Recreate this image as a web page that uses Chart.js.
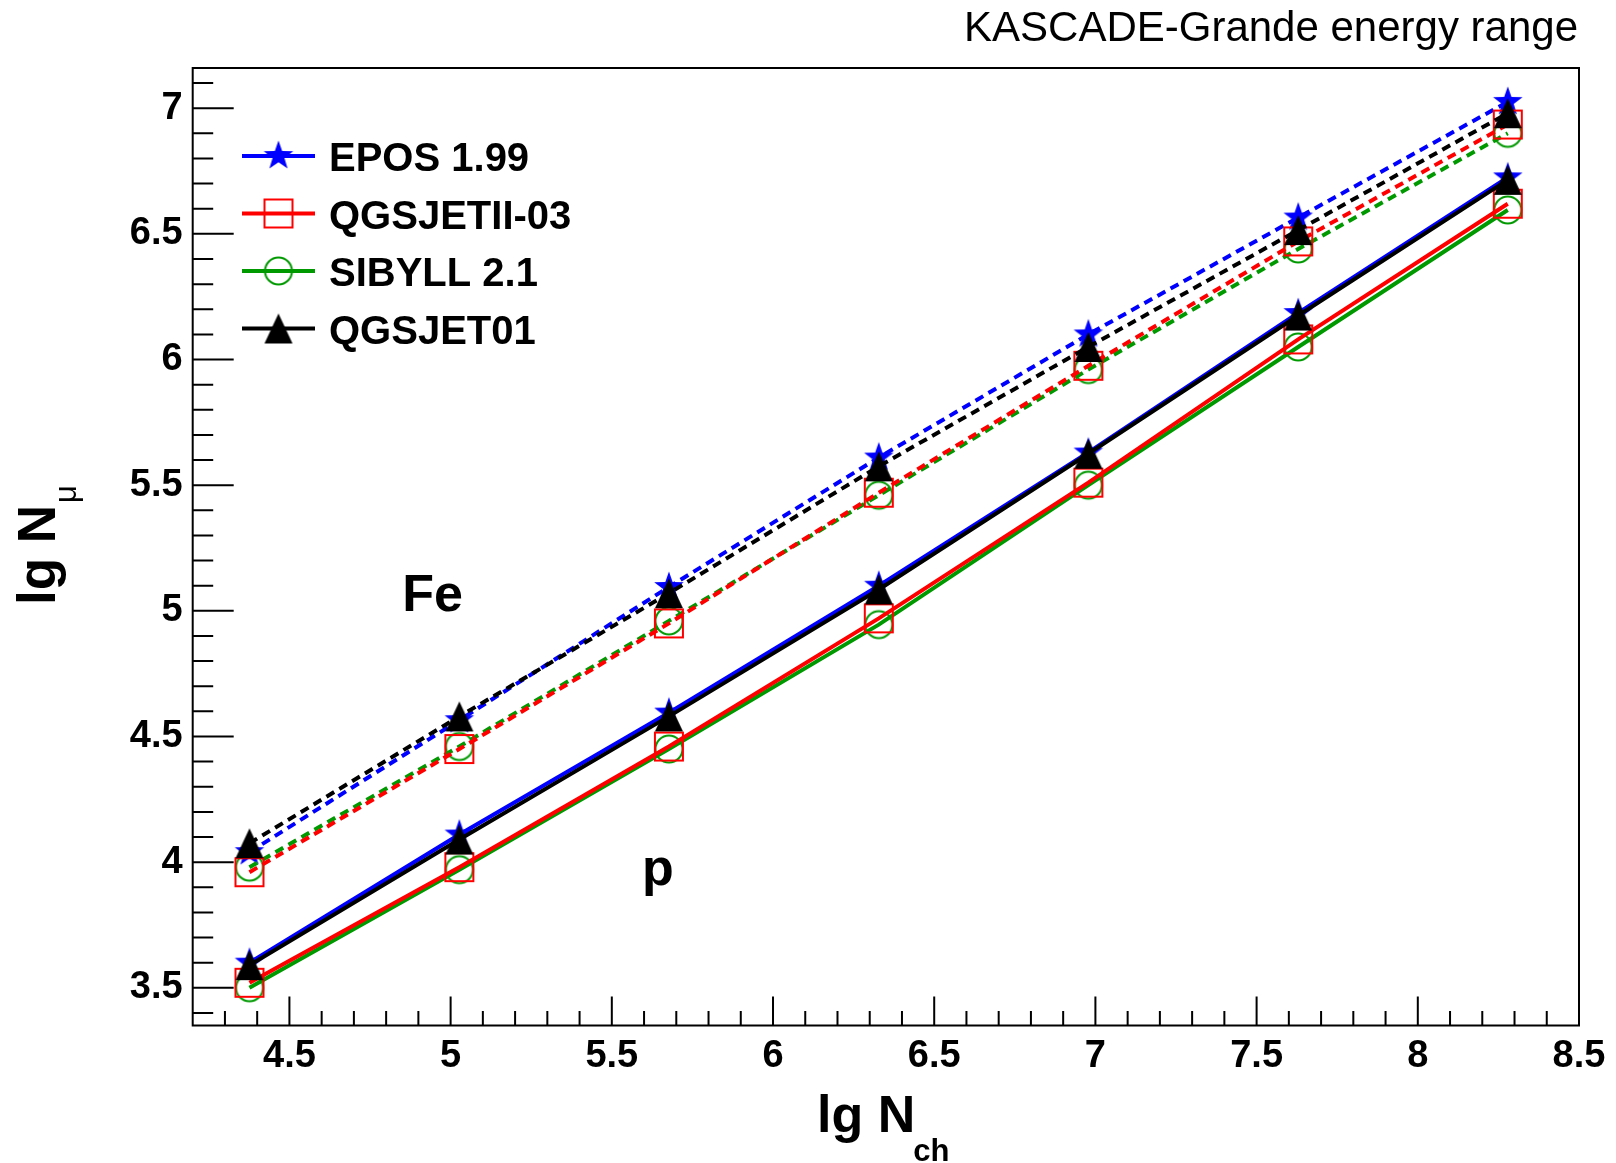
<!DOCTYPE html>
<html><head><meta charset="utf-8">
<script src="https://cdn.jsdelivr.net/npm/chart.js@4.4.1/dist/chart.umd.min.js"></script>
<style>html,body{margin:0;padding:0;background:#fff;}canvas{display:block;}</style>
</head><body>
<canvas id="c" width="1616" height="1163"></canvas>
<script>
// ---------- data ----------
const xValues = [4.376, 5.027, 5.677, 6.328, 6.978, 7.629, 8.279];

const eposFe   = [4.04, 4.565, 5.095, 5.61, 6.10, 6.565, 7.025];
const eposP    = [3.60, 4.11, 4.595, 5.10, 5.63, 6.185, 6.725];
const qgs2Fe   = [3.96, 4.45, 4.95, 5.47, 5.975, 6.47, 6.935];
const qgs2P    = [3.52, 3.98, 4.46, 4.97, 5.51, 6.08, 6.62];
const sibyllFe = [3.98, 4.46, 4.96, 5.46, 5.96, 6.44, 6.90];
const sibyllP  = [3.50, 3.97, 4.45, 4.945, 5.50, 6.05, 6.595];
const qgs01Fe  = [4.075, 4.58, 5.07, 5.575, 6.05, 6.515, 6.98];
const qgs01P   = [3.59, 4.09, 4.58, 5.085, 5.625, 6.175, 6.715];

const modelNames = ['EPOS 1.99', 'QGSJETII-03', 'SIBYLL 2.1', 'QGSJET01'];

const xMajorTicks = [4.5, 5, 5.5, 6, 6.5, 7, 7.5, 8, 8.5];
const xTickLabels = ['4.5', '5', '5.5', '6', '6.5', '7', '7.5', '8', '8.5'];
const yMajorTicks = [3.5, 4, 4.5, 5, 5.5, 6, 6.5, 7];
const yTickLabels = ['3.5', '4', '4.5', '5', '5.5', '6', '6.5', '7'];

const titleText = 'KASCADE-Grande energy range';
const xTitleMain = 'lg N', xTitleSub = 'ch';
const yTitleMain = 'lg N', yTitleSub = 'μ';
const annotations = [ {text: 'Fe', x: 4.85, y: 5.0}, {text: 'p', x: 5.594, y: 3.91} ];

// ---------- styling ----------
const FONT = '"Liberation Sans", Arial, Helvetica, sans-serif';
const BLUE = '#0000ff', RED = '#ff0000', GREEN = '#009900', BLACK = '#000000';

function mkCanvas(w, h) { const c = document.createElement('canvas'); c.width = w; c.height = h; return c; }
function starMarker(color) {
  const c = mkCanvas(34, 34), g = c.getContext('2d');
  const R = 15.5, r = 6.2, cx = 17, cy = 17;
  g.beginPath();
  for (let i = 0; i < 10; i++) {
    const a = -Math.PI / 2 + i * Math.PI / 5, rr = i % 2 ? r : R;
    const px = cx + rr * Math.cos(a), py = cy + rr * Math.sin(a);
    i ? g.lineTo(px, py) : g.moveTo(px, py);
  }
  g.closePath(); g.fillStyle = color; g.fill();
  return c;
}
function squareMarker(color) {
  const c = mkCanvas(32, 32), g = c.getContext('2d');
  g.strokeStyle = color; g.lineWidth = 2; g.strokeRect(2, 2, 28, 28);
  return c;
}
function circleMarker(color) {
  const c = mkCanvas(32, 32), g = c.getContext('2d');
  g.strokeStyle = color; g.lineWidth = 2; g.beginPath(); g.arc(16, 16, 13.5, 0, 2 * Math.PI); g.stroke();
  return c;
}
function triangleMarker(color) {
  const c = mkCanvas(30, 32), g = c.getContext('2d');
  g.beginPath(); g.moveTo(1, 31); g.lineTo(29, 31); g.lineTo(15, 1); g.closePath();
  g.fillStyle = color; g.fill();
  return c;
}

const markers = [starMarker(BLUE), squareMarker(RED), circleMarker(GREEN), triangleMarker(BLACK)];
const colors = [BLUE, RED, GREEN, BLACK];
const drawOrder = [4, 2, 3, 1]; // lower = on top
const feSeries = [eposFe, qgs2Fe, sibyllFe, qgs01Fe];
const pSeries = [eposP, qgs2P, sibyllP, qgs01P];

const toPts = arr => arr.map((v, i) => ({x: xValues[i], y: v}));

const datasets = [];
modelNames.forEach((name, i) => {
  const common = {
    borderColor: colors[i], backgroundColor: colors[i], borderWidth: 4,
    pointStyle: markers[i], pointRadius: 14, pointHoverRadius: 14,
    showLine: true, tension: 0, order: drawOrder[i], fill: false
  };
  datasets.push(Object.assign({}, common, {label: name + ' (Fe)', data: toPts(feSeries[i]), borderDash: [9, 6]}));
  datasets.push(Object.assign({}, common, {label: name + ' (p)', data: toPts(pSeries[i]), borderDash: [], legendLabel: name, legendIndex: i}));
});

function labelFor(v, vals, labels) {
  for (let i = 0; i < vals.length; i++) if (Math.abs(vals[i] - v) < 1e-6) return labels[i];
  return '';
}
function stepTicks(a, b) { const out = []; for (let k = Math.round(a * 10); k <= Math.round(b * 10); k++) out.push({value: k / 10}); return out; }
const isMajor = v => Math.abs(v * 2 - Math.round(v * 2)) < 1e-6;

// ---------- plugins ----------
const whiteBg = {
  id: 'whiteBg',
  beforeDraw(chart) { const g = chart.ctx; g.save(); g.fillStyle = '#fff'; g.fillRect(0, 0, chart.width, chart.height); g.restore(); }
};

const frameAndTicks = {
  id: 'frameAndTicks',
  afterDraw(chart) {
    const g = chart.ctx, a = chart.chartArea, xs = chart.scales.x, ys = chart.scales.y;
    g.save();
    g.strokeStyle = '#000'; g.lineWidth = 2;
    g.beginPath();
    xs.ticks.forEach(t => {
      const px = xs.getPixelForValue(t.value);
      const len = isMajor(t.value) ? 29 : 14.5;
      g.moveTo(px, a.bottom); g.lineTo(px, a.bottom - len);
    });
    ys.ticks.forEach(t => {
      const py = ys.getPixelForValue(t.value);
      const len = isMajor(t.value) ? 41 : 20.5;
      g.moveTo(a.left, py); g.lineTo(a.left + len, py);
    });
    g.stroke();
    g.strokeRect(a.left, a.top, a.right - a.left, a.bottom - a.top);
    g.restore();
  }
};

const texts = {
  id: 'texts',
  afterDraw(chart) {
    const g = chart.ctx, xs = chart.scales.x, ys = chart.scales.y;
    g.save();
    g.fillStyle = '#000';
    g.font = '42px ' + FONT; g.textAlign = 'right'; g.textBaseline = 'alphabetic';
    g.fillText(titleText, 1578, 41);
    g.textAlign = 'left';
    g.font = 'bold 52px ' + FONT;
    g.fillText(xTitleMain, 817, 1132);
    const wx = g.measureText(xTitleMain).width;
    g.font = 'bold 31px ' + FONT;
    g.fillText(xTitleSub, 817 + wx - 2, 1161);
    g.save();
    g.translate(55, 602); g.rotate(-Math.PI / 2);
    g.font = 'bold 53px ' + FONT;
    g.fillText(yTitleMain, -3, 0);
    const wy = g.measureText(yTitleMain).width;
    g.font = '31px ' + FONT;
    g.fillText(yTitleSub, -3 + wy + 2, 21);
    g.restore();
    g.font = 'bold 52px ' + FONT;
    annotations.forEach(t => g.fillText(t.text, xs.getPixelForValue(t.x), ys.getPixelForValue(t.y)));
    g.restore();
  }
};

const rootLegend = {
  id: 'rootLegend',
  afterDraw(chart) {
    const g = chart.ctx;
    const items = chart.data.datasets.filter(d => d.legendLabel).sort((a, b) => a.legendIndex - b.legendIndex);
    const x0 = 242, x1 = 315, xm = 278.5, xt = 329, y0 = 156, dy = 57.5;
    g.save();
    items.forEach((d, i) => {
      const y = y0 + i * dy;
      g.strokeStyle = d.borderColor; g.lineWidth = 4; g.setLineDash([]);
      g.beginPath(); g.moveTo(x0, y); g.lineTo(x1, y); g.stroke();
      const m = d.pointStyle;
      g.drawImage(m, xm - m.width / 2, y - m.height / 2);
      g.fillStyle = '#000'; g.font = 'bold 40px ' + FONT; g.textAlign = 'left'; g.textBaseline = 'alphabetic';
      g.fillText(d.legendLabel, xt, y + 15);
    });
    g.restore();
  }
};

function build() {
  new Chart(document.getElementById('c'), {
    type: 'scatter',
    data: {datasets},
    options: {
      responsive: false, animation: false, devicePixelRatio: 1,
      layout: {padding: {top: 68, right: 37, left: 0, bottom: 0}},
      plugins: {legend: {display: false}, tooltip: {enabled: false}, title: {display: false}},
      scales: {
        x: {
          type: 'linear', position: 'bottom', min: 4.2, max: 8.5,
          grid: {display: false, drawTicks: false}, border: {display: false},
          ticks: {autoSkip: false, maxRotation: 0, minRotation: 0, padding: 8, color: '#000',
            font: {family: FONT, size: 38, weight: 'bold'},
            callback: v => labelFor(v, xMajorTicks, xTickLabels)},
          afterBuildTicks: s => { s.ticks = stepTicks(4.3, 8.5); },
          afterFit: s => { s.height = 137.5; }
        },
        y: {
          type: 'linear', position: 'left', min: 3.35, max: 7.16,
          grid: {display: false, drawTicks: false}, border: {display: false},
          ticks: {autoSkip: false, padding: 10, color: '#000',
            font: {family: FONT, size: 38, weight: 'bold'},
            callback: v => labelFor(v, yMajorTicks, yTickLabels)},
          afterBuildTicks: s => { s.ticks = stepTicks(3.4, 7.1); },
          afterFit: s => { s.width = 192.7; }
        }
      }
    },
    plugins: [whiteBg, frameAndTicks, texts, rootLegend]
  });
}
const fontLoads = [document.fonts.load('bold 40px "Liberation Sans"'), document.fonts.load('40px "Liberation Sans"')];
Promise.race([Promise.all(fontLoads), new Promise(r => setTimeout(r, 800))]).then(build, build);
</script></body></html>
